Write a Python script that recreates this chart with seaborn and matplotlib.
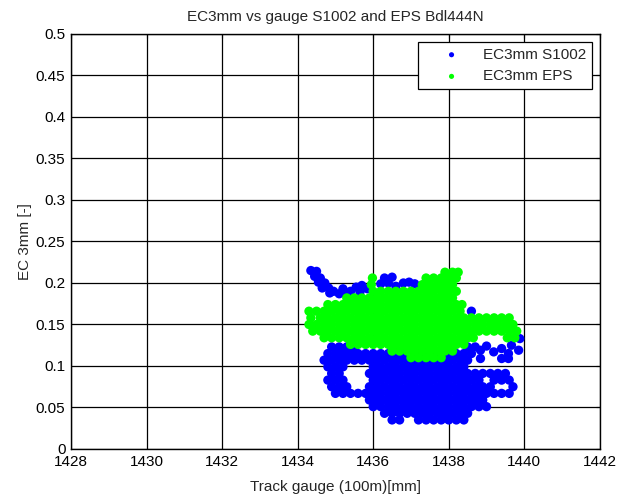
import matplotlib
matplotlib.use("Agg")
import matplotlib.pyplot as plt
import seaborn as sns
import pandas as pd

# ---------------- data ----------------
x_ticks = [1428, 1430, 1432, 1434, 1436, 1438, 1440, 1442]
y_ticks = [0, 0.05, 0.1, 0.15, 0.2, 0.25, 0.3, 0.35, 0.4, 0.45, 0.5]
y_tick_labels = ["0", "0.05", "0.1", "0.15", "0.2", "0.25", "0.3", "0.35", "0.4", "0.45", "0.5"]

# EC3mm S1002 (blue) : rows of the dense cloud, EC level -> gauge values
s1002_levels = [0.035, 0.043, 0.051, 0.059, 0.067, 0.075, 0.083, 0.091, 0.099, 0.107, 0.115, 0.123]
s1002_gauge = [
    [1436.5, 1436.7, 1437.2, 1437.4, 1437.6, 1437.8, 1438.0, 1438.2, 1438.4],
    [1436.3, 1436.5, 1436.7, 1436.9, 1437.1, 1437.3, 1437.5, 1437.7, 1437.9, 1438.1, 1438.3, 1438.5],
    [1436.0, 1436.2, 1436.4, 1436.6, 1436.8, 1437.0, 1437.2, 1437.4, 1437.6, 1437.8, 1438.0, 1438.2,
     1438.4, 1438.6, 1438.8, 1439.0],
    [1435.9, 1436.1, 1436.3, 1436.5, 1436.7, 1436.9, 1437.1, 1437.3, 1437.5, 1437.7, 1437.9, 1438.1,
     1438.3, 1438.5, 1438.7, 1438.9],
    [1435.0, 1435.2, 1435.4, 1435.6, 1435.8, 1436.0, 1436.2, 1436.4, 1436.6, 1436.8, 1437.0, 1437.2,
     1437.4, 1437.6, 1437.8, 1438.0, 1438.2, 1438.4, 1438.6, 1438.8, 1439.0, 1439.2, 1439.4, 1439.6],
    [1434.9, 1435.1, 1435.3, 1435.9, 1436.1, 1436.3, 1436.5, 1436.7, 1436.9, 1437.1, 1437.3, 1437.5,
     1437.7, 1437.9, 1438.1, 1438.3, 1438.5, 1438.7, 1438.9, 1439.1, 1439.7],
    [1434.8, 1435.0, 1435.2, 1436.0, 1436.2, 1436.4, 1436.6, 1436.8, 1437.0, 1437.2, 1437.4, 1437.6,
     1437.8, 1438.0, 1438.2, 1438.4, 1438.6, 1438.8, 1439.2, 1439.4, 1439.6],
    [1434.9, 1435.1, 1435.9, 1436.1, 1436.3, 1436.5, 1436.7, 1436.9, 1437.1, 1437.3, 1437.5, 1437.7,
     1437.9, 1438.1, 1438.3, 1438.5, 1438.7, 1438.9, 1439.1, 1439.3, 1439.5],
    [1434.8, 1435.0, 1435.2, 1436.0, 1436.2, 1436.4, 1436.6, 1436.8, 1437.0, 1437.2, 1437.4, 1437.6,
     1437.8, 1438.0, 1438.2, 1438.4],
    [1434.7, 1434.9, 1435.1, 1435.3, 1435.5, 1435.7, 1435.9, 1436.1, 1436.3, 1436.5, 1436.7, 1436.9,
     1437.1, 1437.3, 1437.5, 1437.7, 1437.9, 1438.1, 1438.3, 1438.5],
    [1434.8, 1435.0, 1435.2, 1435.4, 1435.6, 1435.8, 1436.0, 1436.2, 1436.4, 1436.6, 1436.8, 1437.0,
     1437.2, 1437.4, 1437.6, 1437.8, 1438.0, 1438.2, 1438.4, 1438.6],
    [1434.9, 1435.1, 1435.3, 1435.5, 1438.5, 1438.7],
]
# EC3mm S1002 (blue) : loose points (upper-left tail, top strip, right scatter)
s1002_extra_gauge = [1434.35, 1434.5, 1434.45, 1434.6, 1434.55, 1434.72, 1434.65, 1434.82, 1434.95,
                     1434.85, 1435.1, 1435.25, 1435.4, 1435.55, 1435.7, 1435.85, 1435.65, 1435.2,
                     1436.3, 1436.5, 1436.4, 1436.8, 1436.95, 1437.1, 1436.6, 1436.2,
                     1438.84, 1439.0, 1439.19, 1439.4, 1439.58, 1439.4, 1439.58, 1439.85, 1439.66,
                     1438.84, 1439.88, 1438.6]
s1002_extra_ec = [0.215, 0.214, 0.208, 0.206, 0.201, 0.200, 0.194, 0.194, 0.190,
                  0.188, 0.187, 0.188, 0.190, 0.195, 0.197, 0.193, 0.189, 0.193,
                  0.206, 0.207, 0.200, 0.200, 0.201, 0.199, 0.196, 0.199,
                  0.119, 0.124, 0.117, 0.121, 0.115, 0.109, 0.109, 0.119, 0.125,
                  0.109, 0.133, 0.166]

# EC3mm EPS (green) : rows of the dense cloud
eps_levels = [0.110, 0.118, 0.126, 0.134, 0.142, 0.150, 0.158, 0.166, 0.174, 0.182, 0.190, 0.198, 0.206, 0.213]
eps_gauge = [
    [1437.0, 1437.2, 1437.4, 1437.6, 1437.8],
    [1436.5, 1436.7, 1436.9, 1437.1, 1437.3, 1437.5, 1437.7, 1437.9, 1438.1],
    [1435.4, 1435.6, 1435.8, 1436.0, 1436.2, 1436.4, 1436.6, 1436.8, 1437.0, 1437.2, 1437.4, 1437.6,
     1437.8, 1438.0, 1438.2, 1438.4],
    [1434.7, 1434.9, 1435.1, 1435.3, 1435.5, 1435.7, 1435.9, 1436.1, 1436.3, 1436.5, 1436.7, 1436.9,
     1437.1, 1437.3, 1437.5, 1437.7, 1437.9, 1438.1, 1438.3, 1438.5, 1438.65, 1439.55, 1439.75],
    [1434.4, 1434.6, 1434.8, 1435.0, 1435.2, 1435.4, 1435.6, 1435.8, 1436.0, 1436.2, 1436.4, 1436.6,
     1436.8, 1437.0, 1437.2, 1437.4, 1437.6, 1437.8, 1438.0, 1438.2, 1438.4, 1438.6, 1438.8, 1439.0,
     1439.2, 1439.4, 1439.6, 1439.8],
    [1434.3, 1434.5, 1434.7, 1434.9, 1435.1, 1435.3, 1435.5, 1435.7, 1435.9, 1436.1, 1436.3, 1436.5,
     1436.7, 1436.9, 1437.1, 1437.3, 1437.5, 1437.7, 1437.9, 1438.1, 1438.3, 1438.5, 1438.7, 1438.9,
     1439.1, 1439.3, 1439.5, 1439.7],
    [1434.35, 1434.6, 1434.8, 1435.0, 1435.2, 1435.4, 1435.6, 1435.8, 1436.0, 1436.2, 1436.4, 1436.6,
     1436.8, 1437.0, 1437.2, 1437.4, 1437.6, 1437.8, 1438.0, 1438.2, 1438.4, 1438.6, 1438.8, 1439.0,
     1439.2, 1439.4, 1439.6],
    [1434.3, 1434.5, 1434.7, 1434.9, 1435.1, 1435.3, 1435.5, 1435.7, 1435.9, 1436.1, 1436.3, 1436.5,
     1436.7, 1436.9, 1437.1, 1437.3, 1437.5, 1437.7, 1437.9, 1438.1, 1438.3],
    [1434.8, 1435.0, 1435.2, 1435.4, 1435.6, 1435.8, 1436.0, 1436.2, 1436.4, 1436.6, 1436.8, 1437.0,
     1437.2, 1437.4, 1437.6, 1437.8, 1438.0, 1438.2, 1438.35],
    [1435.3, 1435.5, 1435.7, 1435.9, 1436.1, 1436.3, 1436.5, 1436.7, 1436.9, 1437.1, 1437.3, 1437.5,
     1437.7, 1437.9, 1438.1],
    [1436.0, 1436.2, 1436.4, 1436.6, 1436.8, 1437.0, 1437.2, 1437.4, 1437.6, 1437.8, 1438.0, 1438.2],
    [1435.95, 1437.3, 1437.5, 1437.7, 1437.9, 1438.1],
    [1435.98, 1437.4, 1437.6, 1437.8, 1438.0, 1438.2],
    [1437.9, 1438.1, 1438.25],
]

series_names = ["EC3mm S1002", "EC3mm EPS"]
series_colors = ["#0000FF", "#00FF00"]

# ---------------- tables ----------------
def rows_to_frame(levels, gauges, name):
    xs, ys = [], []
    for lvl, row in zip(levels, gauges):
        for g in row:
            xs.append(g)
            ys.append(lvl)
    return pd.DataFrame({"gauge": xs, "ec": ys, "series": name})

df_s1002 = pd.concat([
    rows_to_frame(s1002_levels, s1002_gauge, series_names[0]),
    pd.DataFrame({"gauge": s1002_extra_gauge, "ec": s1002_extra_ec, "series": series_names[0]}),
], ignore_index=True)
df_eps = rows_to_frame(eps_levels, eps_gauge, series_names[1])

# ---------------- plot ----------------
sns.set_style("white")
plt.rcParams["font.family"] = ["Liberation Sans", "DejaVu Sans"]

fig = plt.figure(figsize=(6.2, 4.97), dpi=100, facecolor="white")
ax = fig.add_axes([0.1145, 0.0966, 0.853, 0.835])

sns.scatterplot(data=df_s1002, x="gauge", y="ec", color=series_colors[0], s=45,
                linewidth=0, edgecolor="none", label=series_names[0], ax=ax, zorder=3)
sns.scatterplot(data=df_eps, x="gauge", y="ec", color=series_colors[1], s=45,
                linewidth=0, edgecolor="none", label=series_names[1], ax=ax, zorder=4)

ax.set_xlim(1428, 1442)
ax.set_ylim(0, 0.5)
ax.set_xticks(x_ticks)
ax.set_xticklabels([str(t) for t in x_ticks])
ax.set_yticks(y_ticks)
ax.set_yticklabels(y_tick_labels)
ax.set_axisbelow(True)
ax.grid(True, color="black", linewidth=0.9, linestyle="-")
for sp in ax.spines.values():
    sp.set_visible(True)
    sp.set_color("black")
    sp.set_linewidth(1.0)
ax.tick_params(direction="in", length=3, width=0.8, top=True, right=True,
               labelsize=11, pad=4, colors="black")

ax.set_title("EC3mm vs gauge S1002 and EPS Bdl444N", fontsize=11, pad=9)
ax.set_xlabel("Track gauge (100m)[mm]", fontsize=11, labelpad=8)
ax.set_ylabel("EC 3mm [-]", fontsize=11, labelpad=3)

leg = ax.legend(loc="upper right", fontsize=11, frameon=True, fancybox=False, shadow=False,
                borderaxespad=0.5, borderpad=0.4, handlelength=3.6, handletextpad=0.25,
                labelspacing=0.5, markerscale=0.55, framealpha=1)
leg.get_frame().set_edgecolor("black")
leg.get_frame().set_linewidth(0.9)

fig.savefig("out.png", dpi=100, facecolor="white")
